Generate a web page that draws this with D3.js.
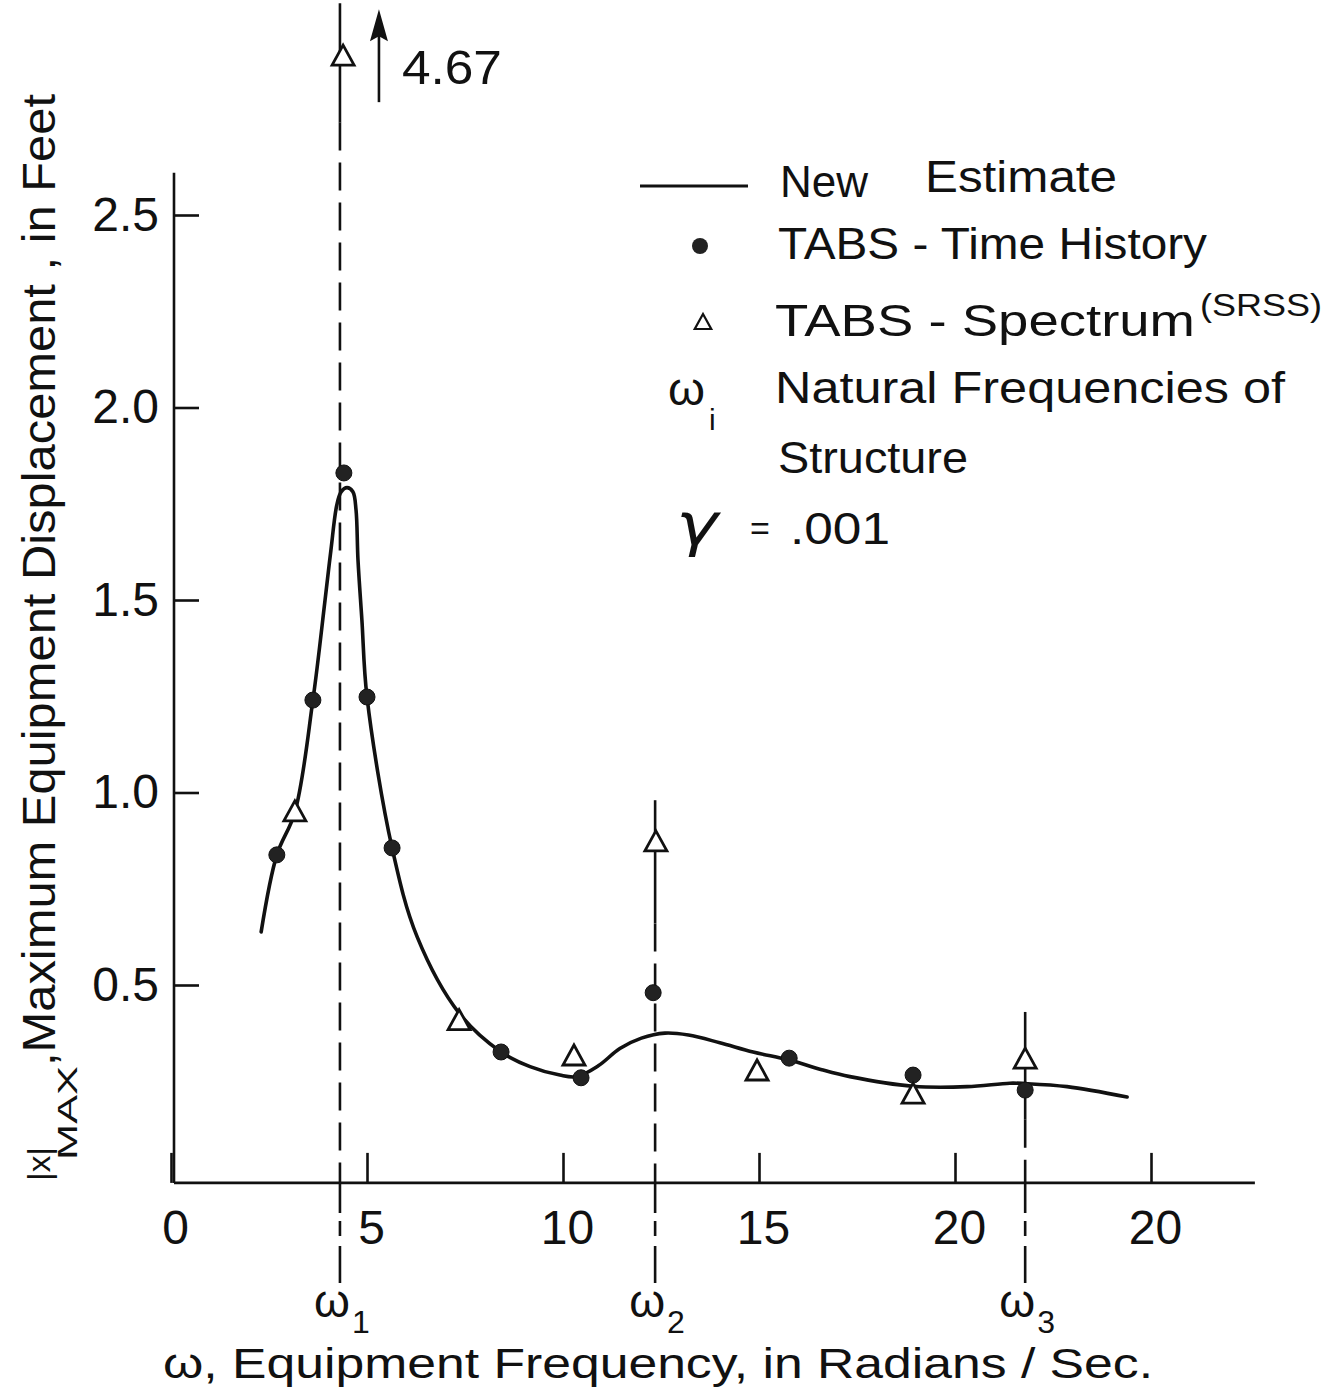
<!DOCTYPE html>
<html><head><meta charset="utf-8">
<script src="https://cdn.jsdelivr.net/npm/d3@7"></script>
<style>
body{margin:0;background:#fff}
svg{display:block}
text{font-family:"Liberation Sans",Arial,sans-serif;fill:#111}
</style>
</head><body>
<svg id="c" width="1338" height="1393"></svg>
<script>
// ---------- data ----------
const xTickValues = [0, 5, 10, 15, 20, 25];
const xTickLabels = ["0", "5", "10", "15", "20", "20"];
const yTickValues = [0.5, 1.0, 1.5, 2.0, 2.5];
const yTickLabels = ["0.5", "1.0", "1.5", "2.0", "2.5"];

// New Estimate curve
const estimateX = [2.30, 2.70, 3.16, 3.62, 3.93, 4.08, 4.23, 4.34, 4.49, 4.64, 4.72, 4.77, 4.87, 5.00, 5.64, 6.28, 7.35, 8.42, 9.16, 9.92, 10.35, 10.90, 11.45, 12.00, 12.60, 13.20, 14.00, 14.85, 15.77, 16.60, 17.32, 18.93, 20.31, 21.40, 21.79, 22.86, 24.39];
const estimateY = [0.638, 0.838, 0.949, 1.240, 1.500, 1.630, 1.747, 1.781, 1.792, 1.781, 1.734, 1.604, 1.448, 1.248, 0.856, 0.625, 0.427, 0.326, 0.288, 0.266, 0.262, 0.290, 0.335, 0.362, 0.375, 0.370, 0.350, 0.326, 0.305, 0.280, 0.262, 0.237, 0.236, 0.245, 0.244, 0.236, 0.209];

// TABS - Time History
const timeHistoryX = [2.70, 3.62, 4.41, 5.00, 5.64, 8.42, 10.46, 12.30, 15.77, 18.93, 21.79];
const timeHistoryY = [0.838, 1.240, 1.830, 1.248, 0.856, 0.326, 0.259, 0.480, 0.310, 0.266, 0.227];

// TABS - Spectrum (SRSS)
const spectrumX = [3.16, 4.39, 7.35, 10.28, 12.37, 14.95, 18.93, 21.79];
const spectrumY = [0.947, 4.67, 0.405, 0.313, 0.869, 0.274, 0.214, 0.305];

// Natural frequencies of structure
const naturalFreq = [4.31, 12.35, 21.79];
const naturalLabels = ["1", "2", "3"];
const naturalTop = [3.05, 0.98, 0.43];
const naturalSolidEnd = [2.74, 0.66, 0.15];

const offScaleLabel = "4.67";

// ---------- layout ----------
const svg = d3.select("#c");
const x = d3.scaleLinear().domain([0, 25]).range([171, 1151]);
const y = d3.scaleLinear().domain([0, 2.5]).range([1177.5, 215]);
const X_AXIS_END = 27.65, Y_AXIS_TOP = 2.61, Y_AXIS_BASE = -0.014;
const DISPLAY_CAP = 2.91;
const axisY = y(Y_AXIS_BASE);
const axisX = x(0) + 3;
const ink = "#111";

// axes lines
svg.append("line").attr("x1", axisX).attr("x2", x(X_AXIS_END))
  .attr("y1", axisY).attr("y2", axisY).attr("stroke", ink).attr("stroke-width", 2.6);
svg.append("line").attr("x1", axisX).attr("x2", axisX)
  .attr("y1", y(Y_AXIS_TOP)).attr("y2", axisY).attr("stroke", ink).attr("stroke-width", 2.6);

// x axis
const xAxis = d3.axisBottom(x).tickValues(xTickValues)
  .tickFormat((d, i) => xTickLabels[i]).tickSizeInner(-30).tickSizeOuter(0).tickPadding(27);
const gx = svg.append("g").attr("transform", `translate(0,${axisY})`).call(xAxis);
gx.select(".domain").remove();
gx.selectAll(".tick line").attr("stroke", ink).attr("stroke-width", 2.6);
gx.selectAll(".tick text").attr("font-size", 48).attr("dx", 4)
  .style("font-family", '"Liberation Sans",Arial,sans-serif').attr("fill", ink);

// y axis
const yAxis = d3.axisLeft(y).tickValues(yTickValues)
  .tickFormat((d, i) => yTickLabels[i]).tickSizeInner(-25).tickSizeOuter(0).tickPadding(15);
const gy = svg.append("g").attr("transform", `translate(${axisX},0)`).call(yAxis);
gy.select(".domain").remove();
gy.selectAll(".tick line").attr("stroke", ink).attr("stroke-width", 2.6);
gy.selectAll(".tick text").attr("font-size", 48)
  .style("font-family", '"Liberation Sans",Arial,sans-serif').attr("fill", ink);

// natural frequency lines
naturalFreq.forEach((f, i) => {
  const px = x(f);
  svg.append("line").attr("x1", px).attr("x2", px)
    .attr("y1", y(naturalTop[i])).attr("y2", y(naturalSolidEnd[i]))
    .attr("stroke", ink).attr("stroke-width", 2.6);
  svg.append("line").attr("x1", px).attr("x2", px)
    .attr("y1", y(naturalSolidEnd[i])).attr("y2", axisY)
    .attr("stroke", ink).attr("stroke-width", 2.6).attr("stroke-dasharray", "28,12");
  svg.append("line").attr("x1", px).attr("x2", px)
    .attr("y1", axisY).attr("y2", axisY + 100)
    .attr("stroke", ink).attr("stroke-width", 2.6).attr("stroke-dasharray", "30,8,15,10,40");
  svg.append("text").attr("x", px - 8).attr("y", axisY + 134)
    .attr("text-anchor", "middle").attr("font-size", 46).text("ω");
  svg.append("text").attr("x", px + 12).attr("y", axisY + 150)
    .attr("font-size", 32).text(naturalLabels[i]);
});

// curve
const pts = estimateX.map((d, i) => [d, estimateY[i]]);
svg.append("path").datum(pts)
  .attr("d", d3.line().x(d => x(d[0])).y(d => y(d[1])).curve(d3.curveCatmullRom.alpha(0.5)))
  .attr("fill", "none").attr("stroke", ink).attr("stroke-width", 3.6).attr("stroke-linecap", "round");

// markers
const tri = (s) => `M0,${-s * 0.6}L${s * 0.55},${s * 0.4}L${-s * 0.55},${s * 0.4}Z`;
svg.append("g").selectAll("circle").data(timeHistoryX).join("circle")
  .attr("cx", d => x(d)).attr("cy", (d, i) => y(timeHistoryY[i])).attr("r", 8)
  .attr("fill", "#222").attr("stroke", ink).attr("stroke-width", 1);
svg.append("g").selectAll("path").data(spectrumX).join("path")
  .attr("transform", (d, i) => `translate(${x(d)},${y(Math.min(spectrumY[i], DISPLAY_CAP))})`)
  .attr("d", tri(20)).attr("fill", "#fff").attr("stroke", ink).attr("stroke-width", 2.8)
  .attr("stroke-linejoin", "miter");

// off-scale arrow annotation
const arrowX = x(naturalFreq[0]) + 39;
svg.append("line").attr("x1", arrowX).attr("x2", arrowX)
  .attr("y1", y(DISPLAY_CAP) + 45).attr("y2", y(DISPLAY_CAP) - 30)
  .attr("stroke", ink).attr("stroke-width", 2.6);
svg.append("path").attr("transform", `translate(${arrowX},${y(DISPLAY_CAP) - 48})`)
  .attr("d", "M0,0L9,32L0,27L-9,32Z").attr("fill", ink);
svg.append("text").attr("x", arrowX + 23).attr("y", y(DISPLAY_CAP) + 27)
  .attr("font-size", 48).attr("textLength", 100).attr("lengthAdjust", "spacingAndGlyphs")
  .text(offScaleLabel);

// axis titles
svg.append("text").attr("x", 163).attr("y", 1378).attr("font-size", 42)
  .attr("textLength", 990).attr("lengthAdjust", "spacingAndGlyphs")
  .text("ω, Equipment  Frequency, in Radians / Sec.");

const yl = svg.append("g").attr("transform", "rotate(-90)");
yl.append("text").attr("x", -1181).attr("y", 50).attr("font-size", 32)
  .attr("textLength", 34).attr("lengthAdjust", "spacingAndGlyphs").text("|x|");
yl.append("text").attr("x", -1160).attr("y", 77).attr("font-size", 28)
  .attr("textLength", 94).attr("lengthAdjust", "spacingAndGlyphs").text("MAX");
yl.append("text").attr("x", -1066).attr("y", 55).attr("font-size", 46)
  .attr("textLength", 972).attr("lengthAdjust", "spacingAndGlyphs")
  .text(",Maximum  Equipment  Displacement , in Feet");

// legend
const lg = svg.append("g");
lg.append("line").attr("x1", 640).attr("x2", 748).attr("y1", 186).attr("y2", 186)
  .attr("stroke", ink).attr("stroke-width", 3);
const lt = (t, xx, yy, fs, len) => {
  const e = lg.append("text").attr("x", xx).attr("y", yy).attr("font-size", fs).text(t);
  if (len) e.attr("textLength", len).attr("lengthAdjust", "spacingAndGlyphs");
  return e;
};
lt("New", 780, 197, 44, 88);
lt("Estimate", 925, 192, 44, 192);
lg.append("circle").attr("cx", 700).attr("cy", 246).attr("r", 8).attr("fill", "#222");
lt("TABS - Time History", 778, 259, 44, 429);
lg.append("path").attr("transform", "translate(703,323)").attr("d", tri(15))
  .attr("fill", "#fff").attr("stroke", ink).attr("stroke-width", 2.2);
lt("TABS - Spectrum", 775, 336, 44, 420);
lt("(SRSS)", 1200, 316, 32, 122);
lt("ω", 668, 405, 46, 37);
lt("i", 709, 430, 30);
lt("Natural  Frequencies  of", 775, 403, 44, 510);
lt("Structure", 778, 473, 44, 190);
lt("γ", 676, 545, 58, 42).style("font-family", '"DejaVu Sans",sans-serif').attr("font-style", "italic");
lt("=", 750, 540, 34);
lt(".001", 790, 544, 44, 100);
</script>
</body></html>
